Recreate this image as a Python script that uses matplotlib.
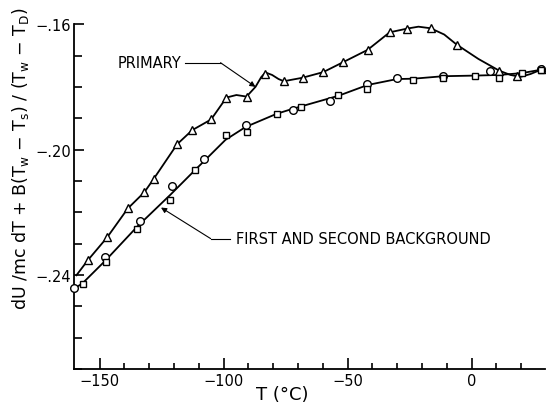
import matplotlib.pyplot as plt

# measured points, T (deg C) vs dU/mc dT + ...
primary_t = [-154.7, -146.9, -138.6, -131.9, -128.1, -118.7, -112.6, -105.0, -98.8, -90.7,
             -83.1, -75.7, -68.1, -59.8, -51.7, -41.9, -33.0, -25.9, -16.5, -6.0,
             11.1, 18.5, 28.4]
primary_v = [-0.2353, -0.2280, -0.2188, -0.2136, -0.2093, -0.1983, -0.1938, -0.1904, -0.1834, -0.1831,
             -0.1760, -0.1782, -0.1771, -0.1753, -0.1721, -0.1682, -0.1626, -0.1614, -0.1613, -0.1665,
             -0.1748, -0.1766, -0.1744]

first_t = [-160.1, -147.9, -133.8, -120.7, -107.9, -91.1, -72.1, -56.9, -42.1, -30.2,
           -11.4, 7.5, 28.2]
first_v = [-0.2443, -0.2344, -0.2229, -0.2116, -0.2031, -0.1921, -0.1873, -0.1845, -0.1790, -0.1773,
           -0.1764, -0.1748, -0.1743]

second_t = [-156.7, -147.3, -134.8, -121.6, -111.3, -98.9, -90.7, -78.6, -68.7, -53.7,
            -42.1, -23.5, -11.4, 1.5, 11.2, 20.4, 28.2]
second_v = [-0.2428, -0.2359, -0.2252, -0.2162, -0.2064, -0.1955, -0.1944, -0.1886, -0.1865, -0.1826,
            -0.1807, -0.1779, -0.1771, -0.1766, -0.1771, -0.1756, -0.1745]

# hand drawn curves
primary_curve_t = [-159.3, -154.7, -146.9, -138.6, -131.9, -128.1, -118.7, -112.6, -105.0, -98.8,
                   -94.8, -90.7, -87.1, -84.8, -83.1, -80.4, -77.8, -75.7, -68.2, -59.8,
                   -51.7, -41.9, -33.0, -25.9, -21.4, -16.5, -11.0, -6.0, 2.8, 11.1,
                   15.7, 19.8, 23.8, 28.4]
primary_curve_v = [-0.2401, -0.2353, -0.2280, -0.2188, -0.2136, -0.2093, -0.1983, -0.1938, -0.1904, -0.1834,
                   -0.1826, -0.1831, -0.1800, -0.1769, -0.1754, -0.1762, -0.1775, -0.1782, -0.1771, -0.1753,
                   -0.1721, -0.1682, -0.1626, -0.1614, -0.1608, -0.1613, -0.1633, -0.1665, -0.1711, -0.1748,
                   -0.1762, -0.1768, -0.1759, -0.1744]

bg_curve_t = [-160.1, -156.9, -147.6, -134.7, -121.4, -111.3, -99.2, -91.1, -78.6, -72.1,
              -53.5, -41.9, -30.0, -23.5, -11.4, 1.5, 11.2, 20.4, 28.2]
bg_curve_v = [-0.2443, -0.2427, -0.2354, -0.2245, -0.2144, -0.2064, -0.1969, -0.1928, -0.1886, -0.1870,
              -0.1828, -0.1794, -0.1775, -0.1774, -0.1766, -0.1764, -0.1762, -0.1756, -0.1745]

x_ticks = [-150, -100, -50, 0]
x_labels = ['\u2212150', '\u2212100', '\u221250', '0']
y_ticks = [-0.24, -0.20, -0.16]
y_labels = ['\u2212.24', '\u2212.20', '\u2212.16']

fig = plt.figure(figsize=(5.46, 4.10), dpi=100)
ax = fig.add_axes([0.135, 0.0976, 0.863, 0.841])

ax.plot(primary_curve_t, primary_curve_v, c='k', lw=1.3, zorder=2)
ax.plot(bg_curve_t, bg_curve_v, c='k', lw=1.3, zorder=2)

mk = dict(ls='none', mfc='white', mec='k', mew=1.0, zorder=3, clip_on=False)
ax.plot(primary_t, primary_v, marker='^', ms=6, **mk)
ax.plot(first_t, first_v, marker='o', ms=5.5, **mk)
ax.plot(second_t, second_v, marker='s', ms=5, **mk)

# leader for PRIMARY
ax.text(-116.8, -0.1723, 'PRIMARY', fontsize=10.5, ha='right', va='center')
ax.plot([-115.5, -101.2], [-0.1723, -0.1723], c='k', lw=0.8)
ax.annotate('', xy=(-87.1, -0.1800), xytext=(-101.2, -0.1723),
            arrowprops=dict(arrowstyle='-|>', color='k', lw=0.8, mutation_scale=8, shrinkA=0, shrinkB=0))

# leader for backgrounds
ax.text(-94.8, -0.2284, 'FIRST AND SECOND BACKGROUND', fontsize=10.5, ha='left', va='center')
ax.plot([-97.2, -105.2], [-0.2284, -0.2284], c='k', lw=0.8)
ax.annotate('', xy=(-125.2, -0.2185), xytext=(-105.2, -0.2284),
            arrowprops=dict(arrowstyle='-|>', color='k', lw=0.8, mutation_scale=8, shrinkA=0, shrinkB=0))

ax.set_xlim(-160.4, 29.6)
ax.set_ylim(-0.2697, -0.16)
ax.set_xticks(x_ticks)
ax.set_xticklabels(x_labels)
ax.set_yticks(y_ticks)
ax.set_yticklabels(y_labels)
ax.set_xticks(range(-150, 30, 10), minor=True)
ax.set_yticks([-0.27, -0.26, -0.25, -0.23, -0.22, -0.21, -0.19, -0.18, -0.17], minor=True)

ax.tick_params(which='both', direction='in', labelsize=10.5, width=1.2)
ax.tick_params(axis='x', which='major', length=8, pad=3)
ax.tick_params(axis='x', which='minor', length=4)
ax.tick_params(axis='y', which='major', length=7, pad=2)
ax.tick_params(axis='y', which='minor', length=6)

for s in ['top', 'right']:
    ax.spines[s].set_visible(False)
for s in ['left', 'bottom']:
    ax.spines[s].set_linewidth(1.3)

ax.set_xlabel('T (\u00b0C)', fontsize=13)
ax.xaxis.set_label_coords(0.4425, -0.047)
ax.set_ylabel('dU /mc dT + B(T$_\\mathrm{w}$ \u2212 T$_\\mathrm{s}$) / (T$_\\mathrm{w}$ \u2212 T$_\\mathrm{D}$)',
              fontsize=12.5)
ax.yaxis.set_label_coords(-0.09, 0.612)

plt.savefig('out.png', dpi=100)
plt.close()
